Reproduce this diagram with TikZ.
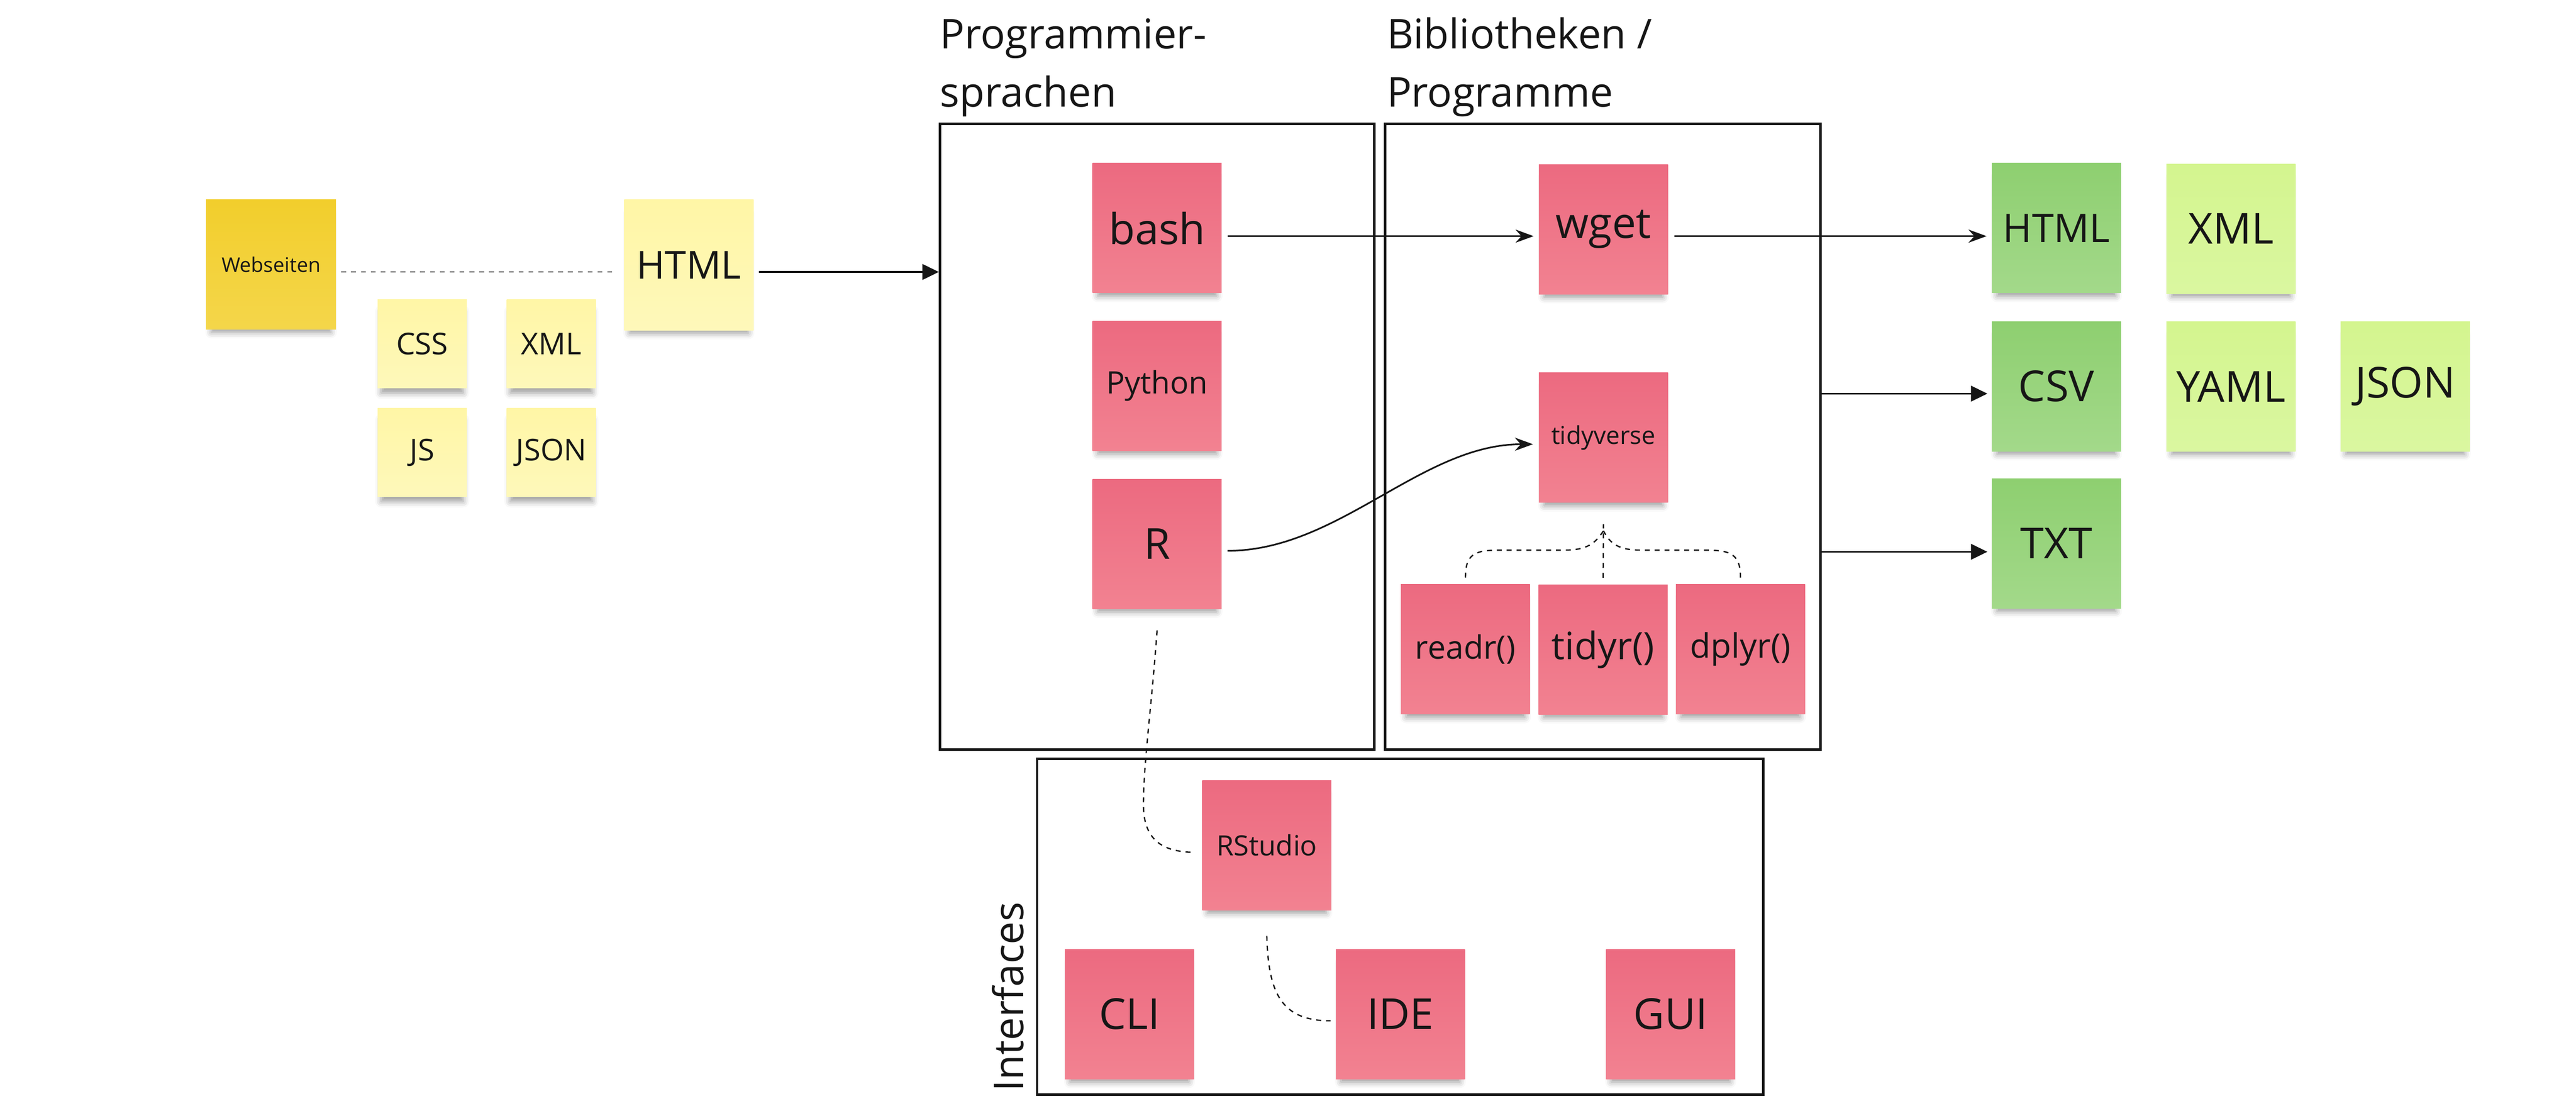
\documentclass[tikz,border=0pt]{standalone}
\usepackage{fontspec}
\setmainfont{Open Sans}
\usetikzlibrary{arrows.meta,calc,shadows.blur}
\definecolor{pinkT}{HTML}{EC6A80}
\definecolor{pinkB}{HTML}{F28291}
\definecolor{ylight}{HTML}{FFF6A6}
\definecolor{ylightB}{HTML}{FEF8BA}
\definecolor{ydark}{HTML}{F2CE2C}
\definecolor{ydarkB}{HTML}{F4D64A}
\definecolor{gdark}{HTML}{8ECF70}
\definecolor{gdarkB}{HTML}{A3D98A}
\definecolor{glight}{HTML}{D4F58F}
\definecolor{glightB}{HTML}{DAF7A0}
\definecolor{ink}{HTML}{161616}
\definecolor{dashgray}{HTML}{444444}
\newcommand{\fsz}[1]{\fontsize{#1}{#1}\selectfont}
\begin{document}
\begin{tikzpicture}[x=1pt,y=-1pt,
  note/.style={rectangle, inner sep=0pt, minimum width=78.6pt, minimum height=79pt, text=ink,
    blur shadow={shadow xshift=0pt, shadow yshift=-5.5pt, shadow blur radius=4pt, shadow opacity=40, shadow scale=0.92}},
  smallnote/.style={note, minimum width=54.3pt, minimum height=54pt},
  pinknote/.style={note, top color=pinkT, bottom color=pinkB},
  ylnote/.style={top color=ylight, bottom color=ylightB},
  ydnote/.style={note, top color=ydark, bottom color=ydarkB},
  gdnote/.style={note, top color=gdark, bottom color=gdarkB},
  glnote/.style={note, top color=glight, bottom color=glightB},
  frame/.style={draw=ink, line width=1.5pt, inner sep=0pt, rectangle},
  heading/.style={anchor=base west, inner sep=0pt, text=ink, font=\fsz{25}},
  conn/.style={draw=ink, line width=1pt},
  sarrow/.style={conn, -{Stealth[length=11pt,width=8pt]}},
  tarrow/.style={conn, -{Triangle[length=10pt,width=9.5pt]}},
  dconn/.style={draw=ink, line width=0.8pt, dash pattern=on 3pt off 3pt},
]
\useasboundingbox (0,0) rectangle (1568,679.5);

% frames
\node[frame, minimum width=264.4pt, minimum height=380.9pt] (box1) at (704.4,265.95) {};
\node[frame, minimum width=265pt, minimum height=380.9pt] (box2) at (975.5,265.95) {};
\node[frame, minimum width=442pt, minimum height=204.4pt] (box3) at (852.3,564.4) {};

% headings
\node[heading] (prog1) at (572,29.5) {Programmier-};
\node[heading] (prog2) at (572,65) {sprachen};
\node[heading] (bib1) at (844,29.5) {Bibliotheken /};
\node[heading] (bib2) at (844,65) {Programme};
\node[rotate=90, anchor=base, inner sep=0pt, text=ink, font=\fsz{25}] (intf) at (623,607) {Interfaces};

% yellow notes
\node[ydnote, minimum width=79pt, font=\fsz{12.3}] (web) at (165,161) {Webseiten};
\node[note, ylnote, minimum width=78.7pt, minimum height=79.5pt, font=\fsz{23.5}] (htmly) at (419.3,161.3) {HTML};
\node[smallnote, ylnote, font=\fsz{18.3}] (css) at (257,209.4) {CSS};
\node[smallnote, ylnote, font=\fsz{18.3}] (xmly) at (335.6,209.4) {XML};
\node[smallnote, ylnote, font=\fsz{18.3}] (js) at (257,275.5) {JS};
\node[smallnote, ylnote, font=\fsz{18.3}] (jsony) at (335.6,275.5) {JSON};

% pink notes
\node[pinknote, font=\fsz{26}] (bash) at (704.3,138.9) {bash};
\node[pinknote, font=\fsz{18.8}] (python) at (704.3,235) {Python};
\node[pinknote, font=\fsz{26}] (R) at (704.3,331.2) {R};
\node[pinknote, font=\fsz{26}] (wget) at (976,139.6) {wget};
\node[pinknote, font=\fsz{15}] (tidyverse) at (976,266.5) {tidyverse};
\node[pinknote, font=\fsz{19.6}] (readr) at (892,395.4) {readr()};
\node[pinknote, font=\fsz{23}] (tidyr) at (975.8,395.5) {tidyr()};
\node[pinknote, font=\fsz{20.5}] (dplyr) at (1059.4,395.4) {dplyr()};
\node[pinknote, font=\fsz{17}] (rstudio) at (771.1,514.7) {RStudio};
\node[pinknote, font=\fsz{26}] (cli) at (687.5,617.5) {CLI};
\node[pinknote, font=\fsz{26}] (ide) at (852.4,617.5) {IDE};
\node[pinknote, font=\fsz{26}] (gui) at (1016.9,617.5) {GUI};

% green notes
\node[gdnote, font=\fsz{24}] (htmlg) at (1251.7,138.9) {HTML};
\node[glnote, font=\fsz{26}] (xmlg) at (1358,139.3) {XML};
\node[gdnote, font=\fsz{26}] (csv) at (1251.7,235.3) {CSV};
\node[glnote, font=\fsz{26}] (yaml) at (1358,235.3) {YAML};
\node[glnote, font=\fsz{26}] (jsong) at (1464,235.3) {JSON};
\node[gdnote, font=\fsz{26}] (txt) at (1251.7,330.9) {TXT};

% connectors
\draw[draw=dashgray, line width=0.8pt, dash pattern=on 3pt off 3pt]
  ($(web.east)+(3,4.6)$) -- ($(htmly.west)+(-6,4.3)$);

\coordinate (hs) at ($(htmly.east)+(3,4.3)$);
\draw[tarrow] (hs) -- (hs -| box1.west);

\coordinate (bs) at ($(bash.east)+(3.5,4.9)$);
\coordinate (we) at ($(wget.west)+(-3,0)$);
\draw[sarrow] (bs) -- (bs -| we);

\coordinate (ws) at ($(wget.east)+(3.7,4.2)$);
\coordinate (he) at ($(htmlg.west)+(-3,0)$);
\draw[sarrow] (ws) -- (ws -| he);

\coordinate (cs) at (box2.east |- 0,239.7);
\coordinate (ce) at ($(csv.west)+(-2.5,0)$);
\draw[tarrow] (cs) -- (cs -| ce);

\coordinate (ts) at (box2.east |- 0,336);
\coordinate (te) at ($(txt.west)+(-2.5,0)$);
\draw[tarrow] (ts) -- (ts -| te);

\draw[sarrow] ($(R.east)+(3.4,4.2)$) .. controls (815,335.4) and (865,270.5) .. ($(tidyverse.west)+(-3.4,4)$);

% tidyverse family
\coordinate (hub) at ($(tidyverse.south)+(0,13)$);
\draw[dconn] ($(tidyr.north)+(0,-4)$) -- (hub);
\draw[dconn] ($(readr.north)+(0,-4)$) .. controls (892,338) and (897,335) .. (912,335)
  -- (952,335) .. controls (966,335) and (971,331) .. ($(hub)+(0,4)$);
\draw[dconn] ($(dplyr.north)+(0,-4)$) .. controls (1059.4,338) and (1054,335) .. (1039,335)
  -- (999,335) .. controls (985,335) and (980,331) .. ($(hub)+(0,4)$);

% R - RStudio
\draw[dconn] ($(R.south)+(0,13)$) .. controls (701,430) and (696,465) .. (696,490)
  .. controls (696,511) and (707,519) .. ($(rstudio.west)+(-4,4.3)$);
% RStudio - IDE
\draw[dconn] ($(rstudio.south)+(0,15.5)$) .. controls (772,605) and (780,621.6) .. ($(ide.west)+(-3,4.1)$);
\end{tikzpicture}
\end{document}
